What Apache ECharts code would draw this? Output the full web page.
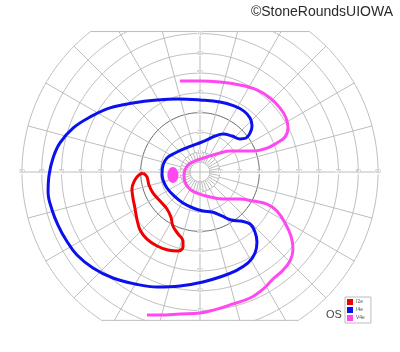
<!DOCTYPE html>
<html><head><meta charset="utf-8">
<script src="https://cdn.jsdelivr.net/npm/echarts@6/dist/echarts.min.js"></script>
<style>html,body{margin:0;padding:0;background:#fff}#c{width:400px;height:352px}</style>
</head><body><div id="c"></div>
<script>
// ---- chart values (degrees of visual field, x = horizontal, y = vertical) ----
const ringTicks = [10, 20, 30, 40, 50, 60, 70, 80, 90];
const verticalTicks = [10, 20, 30, 40, 50, 60, 70];
const innerRing = 5;
const darkRing = 30;
const spokeAngles = [0,15,30,45,60,75,90,105,120,135,150,165,180,195,210,225,240,255,270,285,300,315,330,345];
const innerSpokeAngles = [0,10,20,30,40,50,60,70,80,90,100,110,120,130,140,150,160,170,180,190,200,210,220,230,240,250,260,270,280,290,300,310,320,330,340,350];
const fieldTop = 71, fieldBottom = -75, fieldEdge = 90;

const seriesNames = ['I2e', 'I4e', 'V4e'];
const seriesColors = ['#f00000', '#0a10ee', '#ff48f0'];

const i2e = [[-28.8,-0.5],[-26.8,-2.5],[-25.8,-6.6],[-23.8,-10.6],[-20.2,-14.7],[-16.7,-18.7],[-14.7,-22.8],[-13.7,-27.3],[-11.1,-31.3],[-8.6,-34.9],[-8.6,-37.9],[-11.1,-39.9],[-16.2,-39.4],[-21.7,-37.4],[-26.8,-33.9],[-30.3,-29.3],[-31.9,-23.8],[-32.9,-18.2],[-33.9,-13.1],[-34.4,-8.6],[-32.9,-4.0],[-30.8,-1.5],[-28.8,-0.5]];

const i4e = [[-19.2,-1.0],[-18.7,3.5],[-16.7,7.1],[-12.6,9.6],[-7.1,12.1],[-1.5,14.2],[3.5,16.2],[7.6,18.2],[11.6,19.2],[16.2,18.2],[20.2,16.7],[23.3,17.2],[25.3,19.7],[26.3,23.3],[25.3,27.3],[22.2,30.8],[17.2,33.4],[10.1,35.4],[0,36.4],[-11.1,36.9],[-21.7,36.4],[-33.9,34.9],[-45.5,32.4],[-55.6,27.8],[-64.2,22.2],[-70.8,14.7],[-74.3,7.1],[-76.3,-1.5],[-76.8,-10.1],[-74.8,-19.2],[-71.8,-26.8],[-67.7,-34.4],[-62.2,-42.0],[-54.1,-48.5],[-44.0,-53.6],[-32.9,-56.6],[-21.7,-58.1],[-10.1,-57.6],[1.5,-55.6],[10.1,-53.1],[17.7,-50.1],[24.3,-46.0],[27.8,-41.0],[28.8,-35.4],[27.8,-30.3],[25.3,-26.3],[20.7,-24.8],[15.7,-24.3],[11.1,-22.2],[6.1,-20.2],[1.5,-19.7],[-3.5,-18.2],[-8.6,-15.7],[-13.1,-12.1],[-16.7,-8.1],[-18.7,-4.0],[-19.2,-1.0]];

const v4e = [[-10.1,46.0],[0,46.0],[10.1,45.5],[20.2,44.0],[28.8,41.5],[35.4,37.4],[40.4,32.4],[43.5,27.3],[44.5,22.2],[43.0,17.7],[38.9,14.7],[33.9,12.1],[26.8,10.6],[20.2,10.6],[15.2,10.6],[10.1,9.6],[3.5,7.6],[-2.5,5.6],[-6.1,3.5],[-7.6,1.0],[-8.1,-2.0],[-7.1,-6.1],[-4.6,-9.1],[-0.5,-11.1],[5.1,-12.6],[11.6,-13.7],[20.2,-13.7],[26.8,-14.7],[33.9,-16.2],[38.9,-19.7],[43.0,-25.8],[46.0,-32.4],[47.0,-38.9],[45.5,-45.0],[41.5,-50.1],[36.9,-54.1],[31.9,-59.2],[25.3,-63.7],[16.7,-66.7],[8.6,-69.3],[0,-71.3],[-10.1,-71.8],[-20.2,-72.3],[-26.8,-72.3]];

const blindSpotCenter = [-13.7, -1.5];
const blindSpotRadii = [2.8, 4.0];

// ---- helpers ----
const rad = a => a * Math.PI / 180;
function circlePts(r) {
  const p = [];
  for (let a = 0; a <= 360; a += 1) p.push([r * Math.cos(rad(a)), r * Math.sin(rad(a))]);
  return p;
}
function spokePts(a, r0, r1) {
  return [[r0 * Math.cos(rad(a)), r0 * Math.sin(rad(a))], [r1 * Math.cos(rad(a)), r1 * Math.sin(rad(a))]];
}
const gridSeries = [];
function addGridLine(data, color, clip) {
  gridSeries.push({
    type: 'line', data: data, showSymbol: false, symbol: 'none', silent: true, clip: clip,
    lineStyle: { color: color, width: 1 }, z: 1, animation: false
  });
}
const light = '#bdbdbd';
[innerRing].concat(ringTicks).forEach(r => addGridLine(circlePts(r), r === darkRing ? '#6a6a6a' : light, true));
spokeAngles.forEach(a => {
  const axis = a % 90 === 0;
  addGridLine(spokePts(a, axis ? 0 : 10, fieldEdge), light, true);
});
innerSpokeAngles.forEach(a => addGridLine(spokePts(a, innerRing, 10), light, true));
const topHalf = Math.sqrt(fieldEdge * fieldEdge - fieldTop * fieldTop);
const botHalf = Math.sqrt(fieldEdge * fieldEdge - fieldBottom * fieldBottom);
addGridLine([[-topHalf, fieldTop], [topHalf, fieldTop]], light, false);
addGridLine([[-botHalf, fieldBottom], [botHalf, fieldBottom]], light, false);

const labelData = [];
ringTicks.forEach(r => { labelData.push([r, 0, r]); labelData.push([-r, 0, r]); });
verticalTicks.forEach(r => { labelData.push([0, r, r]); labelData.push([0, -r, r]); });

const blindSpotPoly = [];
for (let a = 0; a < 360; a += 10) blindSpotPoly.push([blindSpotCenter[0] + blindSpotRadii[0] * Math.cos(rad(a)), blindSpotCenter[1] + blindSpotRadii[1] * Math.sin(rad(a))]);

const scale = 1.978; // px per degree
const cx = 200, cy = 172;
const xMin = -92, xMax = 92;

const chart = echarts.init(document.getElementById('c'));
chart.setOption({
  animation: false,
  title: [
    { text: '©StoneRoundsUIOWA', right: 2, top: 0, textStyle: { fontFamily: 'Liberation Sans, Arial, sans-serif', fontSize: 14, fontWeight: 'normal', color: '#2a2a2a' } },
    { text: 'OS', left: 321, top: 304, textStyle: { fontFamily: 'Liberation Sans, Arial, sans-serif', fontSize: 11, fontWeight: 'normal', color: '#444' } }
  ],
  grid: { left: cx + xMin * scale, right: 400 - (cx + xMax * scale), top: cy - fieldTop * scale, bottom: 352 - (cy - fieldBottom * scale), containLabel: false },
  xAxis: { type: 'value', min: xMin, max: xMax, show: false },
  yAxis: { type: 'value', min: fieldBottom, max: fieldTop, show: false },
  legend: {
    data: seriesNames, orient: 'vertical', left: 345, top: 297, icon: 'rect',
    itemWidth: 6, itemHeight: 6, itemGap: 2, padding: [2, 6, 2, 2],
    borderColor: '#bdbdbd', borderWidth: 1, backgroundColor: '#fff',
    textStyle: { fontSize: 5, color: '#555', padding: [0, 0, 0, -2] }
  },
  series: gridSeries.concat([
    {
      type: 'scatter', data: labelData, symbolSize: 0, silent: true, z: 2,
      label: { show: true, position: 'inside', formatter: p => String(p.data[2]), fontSize: 5, color: '#999', backgroundColor: '#fff' }
    },
    {
      type: 'custom', name: 'V4e', z: 3, silent: true, data: [0],
      itemStyle: { color: seriesColors[2] },
      renderItem: (params, api) => ({
        type: 'polygon',
        shape: { points: blindSpotPoly.map(p => api.coord(p)) },
        style: { fill: seriesColors[2] }
      })
    },
    { type: 'line', name: 'I2e', data: i2e, smooth: 0.4, showSymbol: false, symbol: 'none', z: 4, color: seriesColors[0], lineStyle: { color: seriesColors[0], width: 3 }, itemStyle: { color: seriesColors[0] } },
    { type: 'line', name: 'I4e', data: i4e, smooth: 0.4, showSymbol: false, symbol: 'none', z: 4, color: seriesColors[1], lineStyle: { color: seriesColors[1], width: 3 }, itemStyle: { color: seriesColors[1] } },
    { type: 'line', name: 'V4e', data: v4e, smooth: 0.4, showSymbol: false, symbol: 'none', z: 4, color: seriesColors[2], lineStyle: { color: seriesColors[2], width: 3 }, itemStyle: { color: seriesColors[2] } }
  ])
});
</script>
</body></html>
